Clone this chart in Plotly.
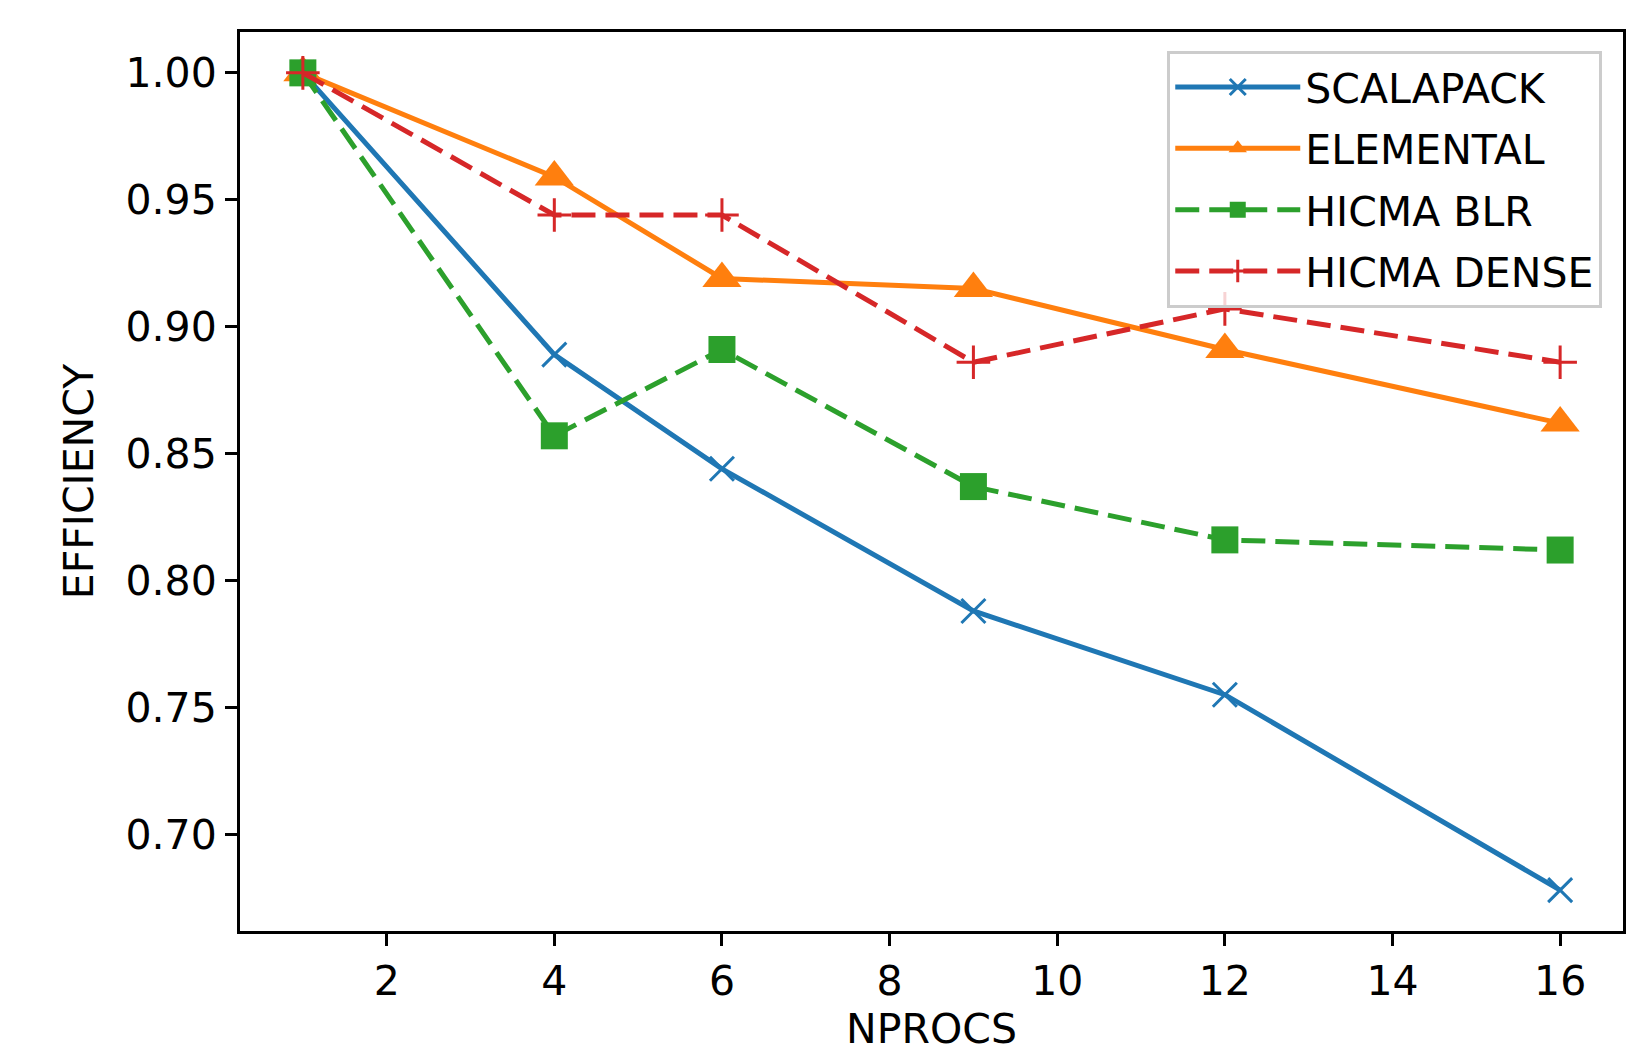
import plotly.graph_objects as go

nprocs = [1, 4, 6, 9, 12, 16]
scalapack = [1.000, 0.889, 0.844, 0.788, 0.755, 0.678]
elemental = [1.000, 0.959, 0.919, 0.915, 0.891, 0.862]
hicma_blr = [1.000, 0.857, 0.891, 0.837, 0.816, 0.812]
hicma_dense = [1.000, 0.944, 0.944, 0.886, 0.907, 0.886]
x_ticks = [2, 4, 6, 8, 10, 12, 14, 16]
y_ticks = [0.70, 0.75, 0.80, 0.85, 0.90, 0.95, 1.00]

FONT = "DejaVu Sans"
FS = 41
LW = 5
DASH = "24px,10px"
fig = go.Figure()
fig.add_trace(go.Scatter(x=nprocs, y=scalapack, name="SCALAPACK", mode="lines+markers",
                         legendgroup="a",
                         line=dict(color="#1f77b4", width=LW),
                         marker=dict(symbol="x-thin", size=24, line=dict(color="#1f77b4", width=3))))
fig.add_trace(go.Scatter(x=nprocs, y=elemental, name="ELEMENTAL", mode="lines+markers",
                         legendgroup="b",
                         line=dict(color="#ff7f0e", width=LW),
                         marker=dict(symbol="triangle-up", size=34, color="#ff7f0e")))
fig.add_trace(go.Scatter(x=nprocs, y=hicma_blr, name="HICMA BLR", mode="lines+markers",
                         legendgroup="c",
                         line=dict(color="#2ca02c", width=LW, dash=DASH),
                         marker=dict(symbol="square", size=27, color="#2ca02c")))
fig.add_trace(go.Scatter(x=nprocs, y=hicma_dense, name="HICMA DENSE", mode="lines+markers",
                         legendgroup="d",
                         line=dict(color="#d62728", width=LW, dash=DASH),
                         marker=dict(symbol="cross-thin", size=24, line=dict(color="#d62728", width=3))))

axis_common = dict(showline=True, linecolor="black", linewidth=3, mirror=True,
                   ticks="outside", ticklen=12, tickwidth=2.5, tickcolor="black",
                   showgrid=False, zeroline=False,
                   tickfont=dict(family=FONT, size=FS, color="black"))
fig.update_layout(
    width=1652, height=1051,
    paper_bgcolor="white", plot_bgcolor="white",
    margin=dict(l=232, r=37, t=24, b=128),
    font=dict(family=FONT, color="black"),
    xaxis=dict(range=[0.25, 16.75], tickvals=x_ticks,
               title=dict(text="NPROCS", font=dict(family=FONT, size=FS), standoff=6),
               **axis_common),
    yaxis=dict(range=[0.6619, 1.0161], tickvals=y_ticks, tickformat=".2f",
               title=dict(text="EFFICIENCY", font=dict(family=FONT, size=FS), standoff=20),
               **axis_common),
    legend=dict(x=0.985, y=0.979, xanchor="right", yanchor="top",
                bgcolor="rgba(255,255,255,0.8)", bordercolor="#cccccc", borderwidth=3,
                font=dict(family=FONT, size=FS, color="black"), itemwidth=125,
                tracegroupgap=5),
    showlegend=True,
)
fig.write_html("out.html")
